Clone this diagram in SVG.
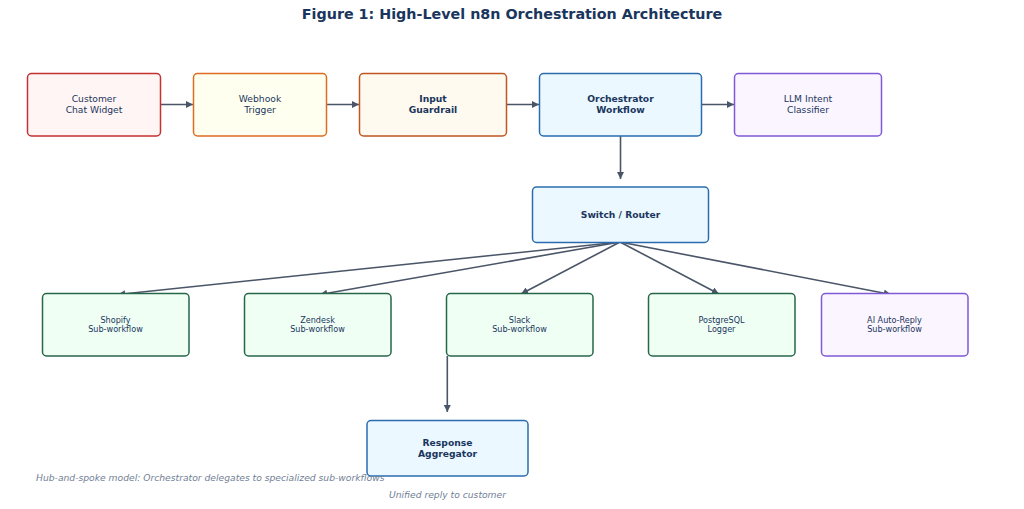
<svg xmlns="http://www.w3.org/2000/svg" width="1024" height="509" viewBox="0 0 1024 509">
  <style>
    text { font-family: "DejaVu Sans", "Liberation Sans", sans-serif; fill: #1a365d; text-anchor: middle; }
    .t { font-size: 9.2px; }
    .b { font-size: 9.2px; font-weight: bold; }
    .s { font-size: 8.1px; }
    .title { font-size: 14.3px; font-weight: bold; }
    .note { font-size: 9.2px; font-style: italic; fill: #718096; }
    rect { stroke-width: 1.5; }
    .red { fill: #fff5f5; stroke: #c53030; }
    .yel { fill: #fffff0; stroke: #dd6b20; }
    .org { fill: #fffaf0; stroke: #c05621; }
    .blu { fill: #ebf8ff; stroke: #2b6cb0; }
    .pur { fill: #faf5ff; stroke: #805ad5; }
    .grn { fill: #f0fff4; stroke: #276749; }
    #connectors line { stroke: #4a5568; stroke-width: 1.6; marker-end: url(#ah); }
  </style>
  <defs>
    <marker id="ah" viewBox="0 0 10 10" refX="10" refY="5" markerWidth="4.5" markerHeight="4.5" markerUnits="strokeWidth" orient="auto">
      <path d="M0,0 L10,5 L0,10 z" fill="#4a5568"/>
    </marker>
  </defs>
  <rect width="1024" height="509" fill="#ffffff" style="stroke:none"/>
  <text class="title" x="512" y="19">Figure 1: High-Level n8n Orchestration Architecture</text>

  <g id="connectors">
    <line x1="160.5" y1="104.5" x2="193" y2="104.5"/>
    <line x1="326.5" y1="104.5" x2="359" y2="104.5"/>
    <line x1="506.5" y1="104.5" x2="539" y2="104.5"/>
    <line x1="701.5" y1="104.5" x2="734" y2="104.5"/>
    <line x1="620.5" y1="136" x2="620.5" y2="179"/>
    <line x1="620" y1="242" x2="118" y2="294.5"/>
    <line x1="620" y1="242" x2="320" y2="294.5"/>
    <line x1="620" y1="242" x2="521" y2="294"/>
    <line x1="620" y1="242" x2="719" y2="294"/>
    <line x1="620" y1="242" x2="891" y2="294.5"/>
    <line x1="447.3" y1="356" x2="447.3" y2="412"/>
  </g>

  <g id="customer">
    <rect class="red" x="27.5" y="73.5" width="133" height="62.5" rx="4"/>
    <text class="t" x="94" y="102">Customer</text>
    <text class="t" x="94" y="113">Chat Widget</text>
  </g>
  <g id="webhook">
    <rect class="yel" x="193.5" y="73.5" width="133" height="62.5" rx="4"/>
    <text class="t" x="260" y="102">Webhook</text>
    <text class="t" x="260" y="113">Trigger</text>
  </g>
  <g id="guardrail">
    <rect class="org" x="359.5" y="73.5" width="147" height="62.5" rx="4"/>
    <text class="b" x="433" y="102">Input</text>
    <text class="b" x="433" y="113">Guardrail</text>
  </g>
  <g id="orchestrator">
    <rect class="blu" x="539.5" y="73.5" width="162" height="62.5" rx="4"/>
    <text class="b" x="620.5" y="102">Orchestrator</text>
    <text class="b" x="620.5" y="113">Workflow</text>
  </g>
  <g id="llm">
    <rect class="pur" x="734.5" y="73.5" width="147" height="62.5" rx="4"/>
    <text class="t" x="808" y="102">LLM Intent</text>
    <text class="t" x="808" y="113">Classifier</text>
  </g>
  <g id="router">
    <rect class="blu" x="532.5" y="187" width="176" height="55.5" rx="4"/>
    <text class="b" x="620.5" y="217.5">Switch / Router</text>
  </g>
  <g id="shopify">
    <rect class="grn" x="42.5" y="293.5" width="146.5" height="62.5" rx="4"/>
    <text class="s" x="115.5" y="322.5">Shopify</text>
    <text class="s" x="115.5" y="332">Sub-workflow</text>
  </g>
  <g id="zendesk">
    <rect class="grn" x="244.5" y="293.5" width="146.5" height="62.5" rx="4"/>
    <text class="s" x="317.5" y="322.5">Zendesk</text>
    <text class="s" x="317.5" y="332">Sub-workflow</text>
  </g>
  <g id="slack">
    <rect class="grn" x="446.5" y="293.5" width="146.5" height="62.5" rx="4"/>
    <text class="s" x="519.5" y="322.5">Slack</text>
    <text class="s" x="519.5" y="332">Sub-workflow</text>
  </g>
  <g id="postgres">
    <rect class="grn" x="648.5" y="293.5" width="146.5" height="62.5" rx="4"/>
    <text class="s" x="721.5" y="322.5">PostgreSQL</text>
    <text class="s" x="721.5" y="332">Logger</text>
  </g>
  <g id="autoreply">
    <rect class="pur" x="821.5" y="293.5" width="146.5" height="62.5" rx="4"/>
    <text class="s" x="894.5" y="322.5">AI Auto-Reply</text>
    <text class="s" x="894.5" y="332">Sub-workflow</text>
  </g>
  <g id="aggregator">
    <rect class="blu" x="367" y="420.5" width="161" height="55.5" rx="4"/>
    <text class="b" x="447.5" y="445.5">Response</text>
    <text class="b" x="447.5" y="456.5">Aggregator</text>
    <text class="note" x="447.5" y="498">Unified reply to customer</text>
  </g>
  <text class="note" x="36" y="481" style="text-anchor:start">Hub-and-spoke model: Orchestrator delegates to specialized sub-workflows</text>
</svg>
